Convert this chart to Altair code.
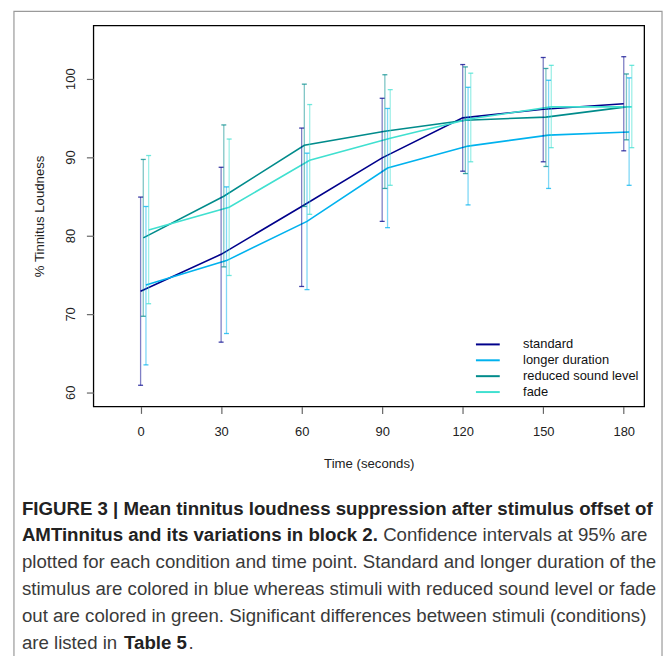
import altair as alt
import pandas as pd

times = [0, 30, 60, 90, 120, 150, 180]
conditions = ["standard", "longer duration", "reduced sound level", "fade"]
colors = ["#00008B", "#00B2EE", "#008B8B", "#40E0D0"]
offsets = [0, 2, 1, 3]

standard_mean = [72.9, 77.6, 83.7, 89.9, 95.0, 96.1, 96.8]
standard_lo = [60.9, 66.4, 73.5, 81.8, 88.2, 89.4, 90.8]
standard_hi = [84.9, 88.7, 93.7, 97.5, 101.8, 102.7, 102.8]

longer_mean = [73.7, 76.8, 81.8, 88.6, 91.4, 92.8, 93.2]
longer_lo = [63.5, 67.5, 73.1, 81.0, 83.9, 86.0, 86.4]
longer_hi = [83.7, 86.2, 90.5, 96.2, 98.9, 99.8, 100.1]

reduced_mean = [79.7, 85.0, 91.5, 93.3, 94.7, 95.1, 96.4]
reduced_lo = [69.7, 76.0, 83.7, 86.0, 87.9, 88.8, 92.2]
reduced_hi = [89.7, 94.1, 99.3, 100.5, 101.5, 101.3, 100.6]

fade_mean = [80.7, 83.6, 89.6, 92.4, 94.9, 96.4, 96.4]
fade_lo = [71.3, 74.9, 82.7, 86.4, 89.4, 91.2, 91.2]
fade_hi = [90.2, 92.3, 96.7, 98.6, 100.7, 101.7, 101.7]

y_ticks = [60, 70, 80, 90, 100]

caption_lines = [
    ("FIGURE 3 | Mean tinnitus loudness suppression after stimulus offset of", "bold", -72, 487),
    ("AMTinnitus and its variations in block 2.", "bold", -72, 514),
    ("Confidence intervals at 95% are", "normal", 292, 514),
    ("plotted for each condition and time point. Standard and longer duration of the", "normal", -72, 541),
    ("stimulus are colored in blue whereas stimuli with reduced sound level or fade", "normal", -72, 568),
    ("out are colored in green. Significant differences between stimuli (conditions)", "normal", -72, 595),
    ("are listed in", "normal", -72, 622),
    ("Table 5", "bold", 31, 622),
    (".", "normal", 96, 622),
]

means = [standard_mean, longer_mean, reduced_mean, fade_mean]
los = [standard_lo, longer_lo, reduced_lo, fade_lo]
his = [standard_hi, longer_hi, reduced_hi, fade_hi]

rows = []
for cond, off, m, lo, hi in zip(conditions, offsets, means, los, his):
    for t, a, b, c in zip(times, m, lo, hi):
        rows.append(dict(condition=cond, time=t, xpos=t + off, mean=a, lo=b, hi=c))
df = pd.DataFrame(rows)

FONT = "Liberation Sans"

x_enc = alt.X(
    "xpos:Q",
    scale=alt.Scale(domain=[-17.6, 187.6], nice=False, zero=False),
    axis=alt.Axis(values=times, title="Time (seconds)", labelPadding=12, titlePadding=19),
)
y_scale = alt.Scale(domain=[58.2, 106.8], nice=False, zero=False)
y_axis = alt.Axis(values=y_ticks, title="% Tinnitus Loudness", labelAngle=270,
                  labelPadding=9, titlePadding=18)

color_scale = alt.Scale(domain=conditions, range=colors)
legend = alt.Legend(
    title=None, orient="none", legendX=391, legendY=315,
    symbolType="M-3,0H3", symbolSize=64, symbolStrokeWidth=2, symbolFillColor="transparent",
    labelFontSize=13, labelFont=FONT, labelColor="#111",
    labelOffset=29, rowPadding=2, symbolOpacity=1,
)
color_enc = alt.Color("condition:N", scale=color_scale, sort=conditions, legend=legend)

base = alt.Chart(df)

bars = base.mark_rule(opacity=0.5, strokeWidth=1.3).encode(
    x=x_enc,
    y=alt.Y("lo:Q", scale=y_scale, axis=y_axis),
    y2="hi:Q",
    color=color_enc,
)

caps = base.transform_fold(["lo", "hi"], as_=["end", "val"]).mark_tick(
    orient="horizontal", size=5, thickness=1.3, opacity=0.75
).encode(
    x=x_enc,
    y=alt.Y("val:Q", scale=y_scale, axis=y_axis),
    color=color_enc,
)

lines = base.mark_line(strokeWidth=1.6).encode(
    x=x_enc,
    y=alt.Y("mean:Q", scale=y_scale, axis=y_axis),
    color=color_enc,
    detail="condition:N",
)

one = pd.DataFrame({"k": [0]})
frame = alt.Chart(one).mark_rect(filled=False, stroke="#9a9a9a", strokeWidth=1.2).encode(
    x=alt.value(-80), x2=alt.value(573), y=alt.value(-14), y2=alt.value(720)
)

cap_layers = []
for txt, weight, cx, cy in caption_lines:
    cap_layers.append(
        alt.Chart(one).mark_text(
            text=txt, align="left", baseline="middle", font=FONT, fontSize=18.8,
            fontWeight=weight, color="#222" if weight == "bold" else "#3a3a3a",
        ).encode(x=alt.value(cx), y=alt.value(cy))
    )

chart = alt.layer(lines, bars, caps, frame, *cap_layers).properties(
    width=555, height=384,
    autosize=alt.AutoSizeParams(type="none"),
    padding={"left": 86, "top": 15, "right": 20, "bottom": 252},
).configure_view(
    stroke="black", strokeWidth=1.3
).configure_axis(
    labelFont=FONT, titleFont=FONT, labelFontSize=13, titleFontSize=13.3,
    titleFontWeight="normal", labelColor="#222", titleColor="#222",
    tickColor="#666", tickSize=7, tickWidth=1.2, domain=False, grid=False,
)

chart.save("out.html", embed_options={"renderer": "svg", "actions": False})
